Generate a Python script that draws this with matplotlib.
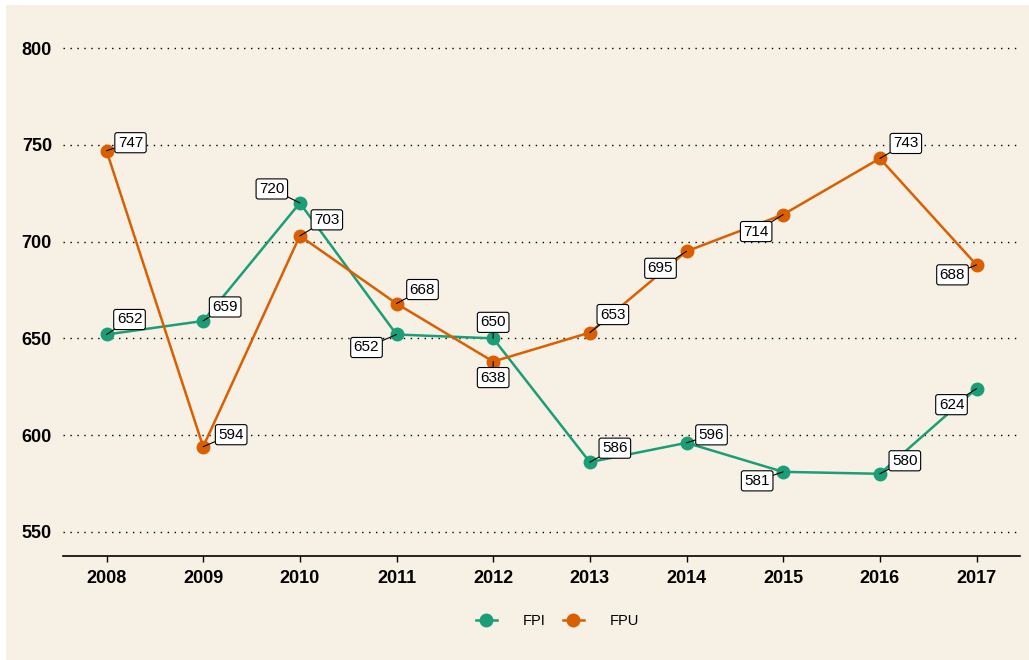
import numpy as np
from matplotlib import pyplot as plt
from matplotlib.patches import Rectangle

years = [2008, 2009, 2010, 2011, 2012, 2013, 2014, 2015, 2016, 2017]
fpi = [652, 659, 720, 652, 650, 586, 596, 581, 580, 624]
fpu = [747, 594, 703, 668, 638, 653, 695, 714, 743, 688]

# label offsets in pixels (dx, dy), mimicking the repelled labels
fpi_off = [(23, 15), (22, 14), (-28, 14), (-30, -13), (0, 16),
           (25, 14), (25, 8), (-26, -9), (25, 13), (-25, -16)]
fpu_off = [(24, 8), (28, 12), (27, 16), (26, 14), (0, -16),
           (23, 18), (-26, -17), (-27, -17), (26, 15), (-24, -10)]

bg = '#F6F1E4'
plt.rcParams['font.family'] = ['Liberation Sans', 'DejaVu Sans']

fig = plt.figure(figsize=(10.29, 6.6), dpi=100, facecolor='white')
# beige panel with a thin white margin on top/left
fig.add_artist(Rectangle((6/1029, -0.1), 1.2, 655/660 + 0.1, transform=fig.transFigure,
                         fc=bg, ec='none', zorder=-10))
ax = fig.add_axes([63/1029, 104/660, 957/1029, 532/660])
ax.set_facecolor(bg)

series = [('FPI', fpi, '#1B9E77', fpi_off), ('FPU', fpu, '#D95F02', fpu_off)]
for name, vals, col, offs in series:
    ax.plot(years, vals, color=col, lw=1.8, marker='o', ms=9, label=name, zorder=3)

for name, vals, col, offs in series:
    for x, v, (dx, dy) in zip(years, vals, offs):
        ax.annotate(str(v), (x, v), xytext=(dx, dy), textcoords='offset pixels',
                    ha='center', va='center', fontsize=11, zorder=5,
                    bbox=dict(boxstyle='round,pad=0.2,rounding_size=0.15',
                              fc='white', ec='black', lw=0.8),
                    arrowprops=dict(arrowstyle='-', color='black', lw=0.8,
                                    shrinkA=0, shrinkB=0))

ax.set_xlim(2007.55, 2017.45)
ax.set_ylim(537.5, 812.5)
ax.set_xticks(years)
ax.set_yticks([550, 600, 650, 700, 750, 800])
ax.tick_params(axis='y', length=0, pad=8)
ax.tick_params(axis='x', length=4, width=1, pad=6)
for lab in ax.get_xticklabels() + ax.get_yticklabels():
    lab.set_fontweight('bold')
    lab.set_fontsize(13)
ax.grid(axis='y', linestyle=(0, (1, 4)), color='black', lw=1)
ax.set_axisbelow(True)
for s in ['top', 'right', 'left']:
    ax.spines[s].set_visible(False)
ax.spines['bottom'].set_linewidth(1.2)

ax.legend(loc='center', bbox_to_anchor=(0.517, -0.122), ncol=2, frameon=False,
          fontsize=10.5, handlelength=1.4, handletextpad=1.8, columnspacing=1.2)

plt.savefig('out.png', dpi=100, facecolor='white')
